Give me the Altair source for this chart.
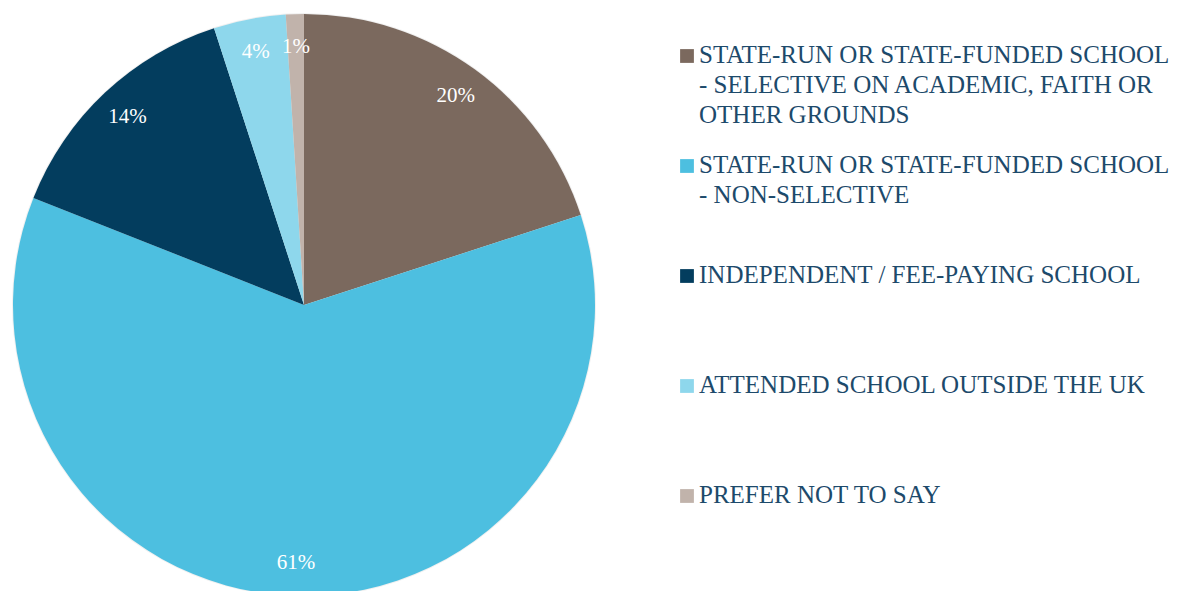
import altair as alt
import pandas as pd

categories = [
    "State-run or state-funded school\n- selective on academic, faith or\nother grounds",
    "State-run or state-funded school\n- non-selective",
    "Independent / fee-paying school",
    "Attended school outside the UK",
    "Prefer not to say",
]
values = [20, 61, 14, 4, 1]
labels = ["20%", "61%", "14%", "4%", "1%"]
colors = ["#7b695e", "#4dbfe0", "#033d5e", "#8ed7ec", "#c1b3ab"]

df = pd.DataFrame({
    "category": categories,
    "value": values,
    "label": labels,
    "order": list(range(len(categories))),
})

color_scale = alt.Scale(domain=categories, range=colors)

base = alt.Chart(df).encode(
    theta=alt.Theta("value:Q", stack=True),
    order=alt.Order("order:O"),
)

shadow = base.mark_arc(outerRadius=292, color="#000000", opacity=0.06, dx=3, dy=3).encode()
arcs = base.mark_arc(outerRadius=291).encode(
    color=alt.Color("category:N", scale=color_scale, legend=None)
)
texts = base.mark_text(radius=258, font="Liberation Serif", fontSize=21, color="white").encode(
    text="label:N"
)

pie = alt.layer(shadow, arcs, texts).properties(width=582, height=582)

leg_base = alt.Chart(df).encode(
    y=alt.Y("order:Q", scale=alt.Scale(domain=[0, 4], range=[42, 482]), axis=None)
)
leg_sym = leg_base.mark_square(size=190, opacity=1).encode(
    x=alt.value(71),
    color=alt.Color("category:N", scale=color_scale, legend=None),
)
leg_txt = leg_base.transform_calculate(
    up="upper(datum.category)"
).mark_text(
    align="left", baseline="top", lineBreak="\n", lineHeight=30,
    font="Liberation Serif", fontSize=25, color="#1d4a6b", dy=-13,
).encode(
    x=alt.value(83),
    text="up:N",
)
legend = alt.layer(leg_sym, leg_txt).properties(width=560, height=582)

chart = alt.hconcat(pie, legend, spacing=20).properties(
    padding={"left": 4, "top": 5, "right": 0, "bottom": 0}
).configure_view(stroke=None)

chart.save("out.html", embed_options={"renderer": "svg", "actions": False})
